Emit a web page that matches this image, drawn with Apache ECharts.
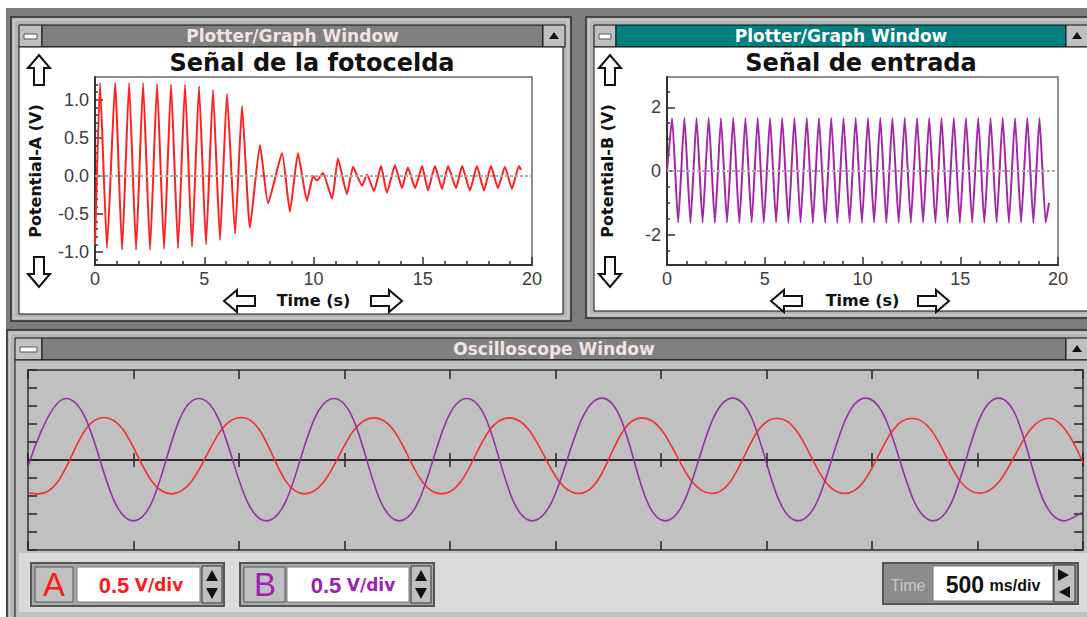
<!DOCTYPE html>
<html><head><meta charset="utf-8">
<script src="https://cdn.jsdelivr.net/npm/echarts@6/dist/echarts.min.js"></script>
<style>html,body{margin:0;padding:0;background:#fff;overflow:hidden}#c{width:1087px;height:617px}</style>
</head><body><div id="c"></div>
<script>
// ---------- data ----------
const timeA = [0.00,0.23,0.55,0.92,1.24,1.56,1.88,2.20,2.52,2.84,3.16,3.48,3.80,4.12,4.44,4.76,5.08,5.40,5.72,6.04,6.41,6.73,7.09,7.55,7.92,8.56,8.92,9.29,9.70,9.98,10.16,10.43,10.85,11.12,11.53,11.81,12.22,12.45,12.77,13.09,13.36,13.73,14.05,14.32,14.65,14.97,15.24,15.56,15.88,16.16,16.52,16.80,17.16,17.48,17.80,18.12,18.44,18.76,19.08,19.40,19.50];
const voltsA = [-0.90,1.22,-0.95,1.22,-0.97,1.22,-0.97,1.22,-0.97,1.21,-0.96,1.20,-0.95,1.20,-0.93,1.18,-0.90,1.13,-0.84,1.08,-0.76,0.92,-0.68,0.41,-0.36,0.30,-0.47,0.30,-0.33,0.00,-0.06,0.04,-0.30,0.23,-0.24,0.12,-0.13,0.02,-0.20,0.13,-0.22,0.14,-0.16,0.11,-0.16,0.13,-0.19,0.13,-0.17,0.13,-0.16,0.13,-0.19,0.13,-0.19,0.13,-0.16,0.12,-0.17,0.13,0.08];

const timeB = [0.00,0.26,0.57,0.89,1.20,1.51,1.82,2.13,2.45,2.76,3.07,3.39,3.70,4.01,4.33,4.64,4.95,5.27,5.58,5.89,6.21,6.52,6.83,7.15,7.46,7.77,8.09,8.40,8.71,9.03,9.34,9.65,9.97,10.28,10.59,10.91,11.22,11.53,11.85,12.16,12.47,12.79,13.10,13.41,13.73,14.04,14.35,14.67,14.98,15.29,15.61,15.92,16.23,16.55,16.86,17.17,17.49,17.80,18.11,18.43,18.74,19.05,19.37,19.54];
const voltsB = [0.00,1.66,-1.62,1.67,-1.63,1.66,-1.62,1.67,-1.63,1.66,-1.62,1.67,-1.63,1.66,-1.62,1.67,-1.63,1.66,-1.62,1.67,-1.63,1.66,-1.62,1.67,-1.63,1.66,-1.62,1.67,-1.63,1.66,-1.62,1.67,-1.63,1.66,-1.62,1.67,-1.63,1.66,-1.62,1.67,-1.63,1.66,-1.62,1.67,-1.63,1.66,-1.62,1.67,-1.63,1.66,-1.62,1.67,-1.63,1.66,-1.62,1.67,-1.63,1.66,-1.62,1.67,-1.63,1.66,-1.62,-1.00];

const scopeTimeA = [0,0.05,0.36,0.68,1.01,1.31,1.64,1.96,2.28,2.61,2.91,3.24,3.55,3.87,4.19,4.51,4.84,5.0];
const scopeVoltsA = [-0.92,-0.94,1.18,-0.94,1.18,-0.94,1.17,-0.94,1.17,-0.93,1.17,-0.93,1.16,-0.93,1.16,-0.92,1.16,-0.08];
const scopeTimeB = [0,0.18,0.50,0.81,1.13,1.45,1.76,2.08,2.39,2.72,3.02,3.34,3.65,3.97,4.29,4.60,4.91,5.0];
const scopeVoltsB = [-0.19,1.71,-1.69,1.71,-1.69,1.71,-1.69,1.71,-1.69,1.72,-1.69,1.72,-1.69,1.72,-1.69,1.72,-1.69,-1.44];

const yTicksA = [-1,-0.5,0,0.5,1];
const yMinorA = [-1.1,-0.9,-0.8,-0.7,-0.6,-0.4,-0.3,-0.2,-0.1,0.1,0.2,0.3,0.4,0.6,0.7,0.8,0.9,1.1,1.2];
const yTicksB = [-2,0,2];
const yMinorB = [-2.5,-1.5,-1,-0.5,0.5,1,1.5,2.5];

const titleA = 'Señal de la fotocelda';
const titleB = 'Señal de entrada';
const windowTitles = ['Plotter/Graph Window','Plotter/Graph Window','Oscilloscope Window'];
const channelScale = ['0.5','0.5'];
const timeScale = '500';

// ---------- helpers for window chrome ----------
const G = [];
function R(x,y,w,h,fill,stroke,lw,z){G.push({type:'rect',silent:true,z:(z===undefined?-10:z),shape:{x:x,y:y,width:w,height:h},style:{fill:fill,stroke:stroke||null,lineWidth:lw||1}});}
function P(pts,fill,stroke,lw,z){G.push({type:'polygon',silent:true,z:(z===undefined?-5:z),shape:{points:pts},style:{fill:fill,stroke:stroke||null,lineWidth:lw||1}});}
function T(text,x,y,font,fill,align,z,rich){const s={text:text,x:x,y:y,font:font,fill:fill,align:align||'center',verticalAlign:'middle',textAlign:align||'center',textVerticalAlign:'middle'};if(rich)s.rich=rich;G.push({type:'text',silent:true,z:(z===undefined?10:z),style:s});}
function arrowUp(cx,cy,down){const s=down?-1:1;P([[cx-11,cy-2*s],[cx,cy-15*s],[cx+11,cy-2*s],[cx+5,cy-2*s],[cx+5,cy+15*s],[cx-5,cy+15*s],[cx-5,cy-2*s]],'#fff','#111',2);}
function arrowLeft(cx,cy,right){const s=right?-1:1;P([[cx-16*s,cy],[cx-3*s,cy-11],[cx-3*s,cy-5],[cx+15*s,cy-5],[cx+15*s,cy+5],[cx-3*s,cy+5],[cx-3*s,cy+11]],'#fff','#111',2);}
function winFrame(x,y,w,h,tx0,tx1,titleColor,title,titleFill,clientFill){
  R(x,y,w,h,'#b4b4b4','#2a2a2a',1.5,-20);
  R(x+3,y+3,w-6,h-6,null,'#d8d8d8',1,-19);
  R(x+8,y+8,tx0-x-8,22,'#c0c0c0','#111',1,-15);           // control box
  R(x+13,y+17,tx0-x-18,5,'#fff','#555',1,-14);
  R(tx0,y+8,tx1-tx0,22,titleColor,'#111',1,-15);           // title bar
  R(tx1,y+8,22,22,'#c0c0c0','#111',1,-15);                  // right button
  P([[tx1+11,y+15],[tx1+6,y+22],[tx1+16,y+22]],'#111',null,1,-14);
  R(x+8,y+30,w-16,h-37,clientFill,'#111',1,-15);
  T(title,(tx0+tx1)/2,y+19,'bold 17px "DejaVu Sans"',titleFill,'center',-12);
}

// desktop
R(6,8,1081,609,'#7d7d7d',null,1,-30);
// windows
winFrame(11,17,560,304,42,543,'#808080',windowTitles[0],'#f3e4e4','#ffffff');
winFrame(586,17,520,301,616,1066,'#008080',windowTitles[1],'#ffffff','#ffffff');
winFrame(7,330,1100,300,42,1066,'#808080',windowTitles[2],'#f3e4e4','#c0c0c0');
// control panel of oscilloscope
R(19,553,1070,59,'#dadada',null,1,-13);
// group A
R(31,563,193,43,'#a8a8a8','#555',2,-12);
R(35,567,38,35,'#c0c0c0','#555',1,-11);
R(77,567,123,35,'#ffffff','#777',1,-11);
R(202,566,20,37,'#c0c0c0','#333',1,-11);
P([[212,570],[206,581],[218,581]],'#111',null,1,-10);
P([[212,599],[206,588],[218,588]],'#111',null,1,-10);
T('A',54,584,'33px "Liberation Sans"','#ff1a1a');
T('{v|'+channelScale[0]+'} {u|V/div}',141,585,'bold 20px "Liberation Sans"','#ff1a1a','center',10,{v:{font:'bold 22px "Liberation Sans"',fill:'#ff1a1a'},u:{font:'bold 17px "DejaVu Sans"',fill:'#ff1a1a'}});
// group B
R(240,563,194,43,'#a8a8a8','#555',2,-12);
R(244,567,41,35,'#c0c0c0','#555',1,-11);
R(287,567,122,35,'#ffffff','#777',1,-11);
R(411,566,20,37,'#c0c0c0','#333',1,-11);
P([[421,570],[415,581],[427,581]],'#111',null,1,-10);
P([[421,599],[415,588],[427,588]],'#111',null,1,-10);
T('B',265,584,'33px "Liberation Sans"','#a020b0');
T('{v|'+channelScale[1]+'} {u|V/div}',353,585,'bold 20px "Liberation Sans"','#a020b0','center',10,{v:{font:'bold 22px "Liberation Sans"',fill:'#a020b0'},u:{font:'bold 17px "DejaVu Sans"',fill:'#a020b0'}});
// time group
R(883,563,195,41,'#8c8c8c','#555',2,-12);
R(933,566,120,35,'#ffffff','#777',1,-11);
R(1054,565,21,37,'#c0c0c0','#333',1,-11);
P([[1069,575],[1058,569],[1058,581]],'#111',null,1,-10);
P([[1059,592],[1070,586],[1070,598]],'#111',null,1,-10);
T('Time',908,585,'16px "Liberation Sans"','#c8c8c8');
T('{v|'+timeScale+'} {u|ms/div}',993,585,'bold 20px "Liberation Sans"','#111','center',10,{v:{font:'bold 23px "Liberation Sans"',fill:'#111'},u:{font:'bold 16px "Liberation Sans"',fill:'#111'}});
// navigation arrows
arrowUp(39,70,false); arrowUp(39,272,true);
arrowLeft(240,301,false); arrowLeft(386,301,true);
arrowUp(610,70,false); arrowUp(610,272,true);
arrowLeft(787,301,false); arrowLeft(933,301,true);

// ---------- chart ----------
const chart = echarts.init(document.getElementById('c'), null, {renderer:'svg'});
const lblFont = {color:'#3c3c3c',fontSize:18,fontFamily:'Liberation Sans'};
const nameFont = {color:'#111',fontSize:16,fontWeight:'bold',fontFamily:'DejaVu Sans'};
function topX(grid){return {type:'value',gridIndex:grid,min:0,max:20,interval:5,position:'bottom',
  axisLine:{onZero:false,lineStyle:{color:'#333',width:2}},axisTick:{inside:true,length:8,lineStyle:{color:'#333',width:1.5}},
  minorTick:{show:true,splitNumber:5,length:4,lineStyle:{color:'#333',width:1.5}},
  axisLabel:Object.assign({margin:5},lblFont),splitLine:{show:false},
  name:'Time (s)',nameLocation:'middle',nameGap:27,nameTextStyle:nameFont};}
function scopeX(pos,onZero,len){return {type:'value',gridIndex:2,min:0,max:5,interval:0.5,position:pos,
  axisLine:{show:onZero,onZero:onZero,lineStyle:{color:'#222',width:1.5}},
  axisTick:{inside:true,length:len,lineStyle:{color:'#222',width:1.5}},axisLabel:{show:false},splitLine:{show:false}};}
function scopeY(pos){return {type:'value',gridIndex:2,min:-2.5,max:2.5,interval:0.5,position:pos,
  axisLine:{show:false,onZero:false},axisTick:{inside:true,length:9,lineStyle:{color:'#222',width:1.5}},axisLabel:{show:false},splitLine:{show:false}};}
const pairs=(xs,ys)=>xs.map((x,i)=>[x,ys[i]]);
const zeroLine={silent:true,symbol:'none',label:{show:false},lineStyle:{color:'#ababab',type:[3,2],width:1.8},data:[{yAxis:0}]};
const titleStyle={fontSize:24,fontWeight:'bold',fontFamily:'DejaVu Sans',color:'#111'};

chart.setOption({
  animation:false,
  backgroundColor:'transparent',
  title:[
    {text:titleA,left:312,top:51,textAlign:'center',padding:0,textStyle:titleStyle},
    {text:titleB,left:861,top:51,textAlign:'center',padding:0,textStyle:titleStyle}
  ],
  grid:[
    {left:95,top:77,width:437,height:188,show:true,borderColor:'#6a6a6a',borderWidth:1.5,backgroundColor:'transparent'},
    {left:667,top:77,width:391,height:188,show:true,borderColor:'#6a6a6a',borderWidth:1.5,backgroundColor:'transparent'},
    {left:28,top:370,width:1055,height:180,show:true,borderColor:'#333',borderWidth:1.5,backgroundColor:'#c0c0c0'}
  ],
  xAxis:[topX(0),topX(1),scopeX('bottom',false,9),scopeX('top',false,9),scopeX('bottom',true,7),scopeX('top',true,7)],
  yAxis:[
    {type:'value',gridIndex:0,min:-1.17,max:1.30,position:'left',axisLine:{onZero:false,lineStyle:{color:'#333',width:2}},
     axisTick:{inside:true,length:8,customValues:yTicksA,lineStyle:{color:'#333',width:1.5}},
     axisLabel:Object.assign({margin:6,customValues:yTicksA,formatter:v=>v.toFixed(1)},lblFont),splitLine:{show:false},
     name:'Potential-A (V)',nameLocation:'middle',nameGap:52,nameTextStyle:nameFont},
    {type:'value',gridIndex:0,min:-1.17,max:1.30,position:'left',offset:0,axisLine:{show:false,onZero:false},
     axisTick:{inside:true,length:3,customValues:yMinorA,lineStyle:{color:'#333',width:1.5}},axisLabel:{show:false},splitLine:{show:false}},
    {type:'value',gridIndex:1,min:-2.95,max:2.95,position:'left',axisLine:{onZero:false,lineStyle:{color:'#333',width:2}},
     axisTick:{inside:true,length:8,customValues:yTicksB,lineStyle:{color:'#333',width:1.5}},
     axisLabel:Object.assign({margin:6,customValues:yTicksB,formatter:v=>String(v)},lblFont),splitLine:{show:false},
     name:'Potential-B (V)',nameLocation:'middle',nameGap:52,nameTextStyle:nameFont},
    {type:'value',gridIndex:1,min:-2.95,max:2.95,position:'left',offset:0,axisLine:{show:false,onZero:false},
     axisTick:{inside:true,length:3,customValues:yMinorB,lineStyle:{color:'#333',width:1.5}},axisLabel:{show:false},splitLine:{show:false}},
    scopeY('left'),scopeY('right')
  ],
  series:[
    {type:'line',xAxisIndex:0,yAxisIndex:0,data:pairs(timeA,voltsA),showSymbol:false,smooth:0.15,
     lineStyle:{color:'#ff1f1f',width:2},markLine:zeroLine,z:3},
    {type:'line',xAxisIndex:1,yAxisIndex:2,data:pairs(timeB,voltsB),showSymbol:false,smooth:0.15,
     lineStyle:{color:'#a425a8',width:2},markLine:zeroLine,z:3},
    {type:'line',xAxisIndex:2,yAxisIndex:4,data:pairs(scopeTimeA,scopeVoltsA),showSymbol:false,smooth:0.45,
     lineStyle:{color:'#f03030',width:1.6},z:3},
    {type:'line',xAxisIndex:2,yAxisIndex:4,data:pairs(scopeTimeB,scopeVoltsB),showSymbol:false,smooth:0.45,
     lineStyle:{color:'#9530a5',width:1.6},z:3}
  ],
  graphic:G
});
</script></body></html>
